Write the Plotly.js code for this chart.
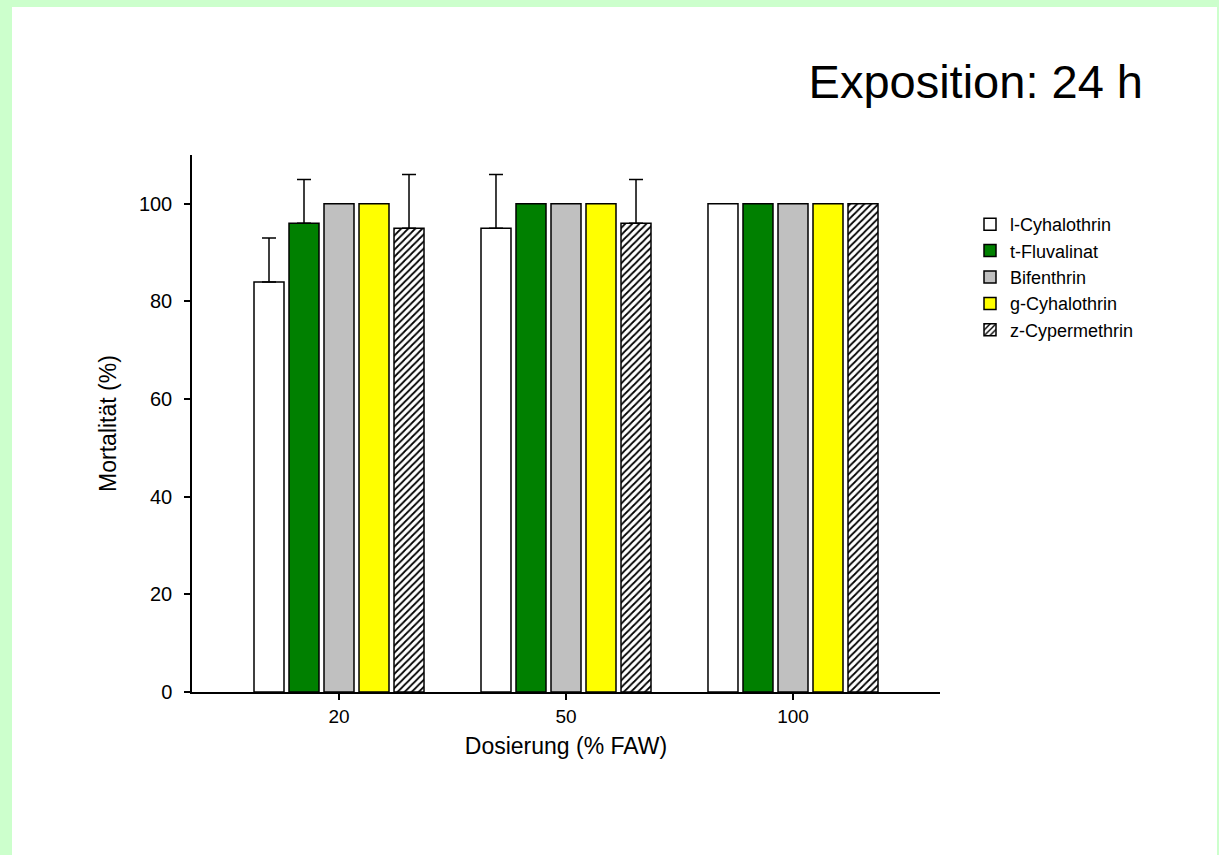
<!DOCTYPE html>
<html>
<head>
<meta charset="utf-8">
<script src="https://cdn.plot.ly/plotly-3.0.1.min.js"></script>
<style>
html,body{margin:0;padding:0;background:#ccffcc;overflow:hidden;width:1219px;height:855px;}
#chart{position:absolute;left:12px;top:7px;width:1205px;height:848px;background:#fff;}
</style>
</head>
<body>
<div id="chart"></div>
<script>
const categories = ['20', '50', '100'];
const seriesNames = ['l-Cyhalothrin', 't-Fluvalinat', 'Bifenthrin', 'g-Cyhalothrin', 'z-Cypermethrin'];
const lCyhalothrin = [84, 95, 100];
const tFluvalinat = [96, 100, 100];
const bifenthrin = [100, 100, 100];
const gCyhalothrin = [100, 100, 100];
const zCypermethrin = [95, 96, 100];
const errLCyhalothrin = [9, 11, null];
const errTFluvalinat = [9, null, null];
const errBifenthrin = [null, null, null];
const errGCyhalothrin = [null, null, null];
const errZCypermethrin = [11, 9, null];
const yTickVals = [0, 20, 40, 60, 80, 100];

const values = [lCyhalothrin, tFluvalinat, bifenthrin, gCyhalothrin, zCypermethrin];
const errors = [errLCyhalothrin, errTFluvalinat, errBifenthrin, errGCyhalothrin, errZCypermethrin];
const fills = ['#ffffff', '#008000', '#c0c0c0', '#ffff00', '#ffffff'];

const traces = seriesNames.map((name, i) => {
  const marker = {color: fills[i], line: {color: '#000', width: 1.5}};
  if (i === 4) {
    marker.pattern = {shape: '/', fgcolor: '#000', bgcolor: '#fff', size: 5, solidity: 0.35};
  }
  return {
    type: 'bar',
    name: name,
    x: categories,
    y: values[i],
    marker: marker,
    error_y: {
      type: 'data',
      symmetric: false,
      array: errors[i].map(v => v == null ? NaN : v),
      arrayminus: errors[i].map(v => v == null ? NaN : 0),
      color: '#000',
      thickness: 1.5,
      width: 7,
      visible: true
    },
    hoverinfo: 'x+y+name'
  };
});

const font = 'Liberation Sans, Arial, Helvetica, sans-serif';

const layout = {
  width: 1205,
  height: 848,
  margin: {l: 180, r: 277, t: 148, b: 163, pad: 0},
  paper_bgcolor: '#ffffff',
  plot_bgcolor: '#ffffff',
  font: {family: font, color: '#000'},
  barmode: 'group',
  bargap: 0.229,
  bargroupgap: 0.143,
  title: {
    text: 'Exposition: 24 h',
    font: {family: font, size: 47, color: '#000'},
    x: (1143 - 12) / 1205,
    xanchor: 'right',
    xref: 'container',
    y: 1 - (82 - 7) / 848,
    yanchor: 'middle',
    yref: 'container'
  },
  xaxis: {
    type: 'category',
    range: [-0.6476, 2.6476],
    showline: true,
    linecolor: '#000',
    linewidth: 1.5,
    ticks: 'outside',
    ticklen: 6,
    tickwidth: 1.5,
    tickcolor: '#000',
    showgrid: false,
    zeroline: false,
    tickfont: {family: font, size: 19, color: '#000'},
    title: {text: 'Dosierung (% FAW)', font: {family: font, size: 23, color: '#000'}, standoff: 12},
    fixedrange: true
  },
  yaxis: {
    range: [0, 110],
    tickvals: yTickVals,
    showline: true,
    linecolor: '#000',
    linewidth: 1.5,
    ticks: 'outside',
    ticklen: 6,
    tickwidth: 1.5,
    tickcolor: '#000',
    showgrid: false,
    zeroline: false,
    ticklabelstandoff: 8,
    tickfont: {family: font, size: 20, color: '#000'},
    title: {text: 'Mortalität (%)', font: {family: font, size: 23, color: '#000'}, standoff: 16},
    fixedrange: true
  },
  showlegend: true,
  legend: {
    x: (970 - 192) / 748,
    xanchor: 'left',
    y: (692 - 206) / 537,
    yanchor: 'top',
    font: {family: font, size: 18, color: '#000'},
    bgcolor: 'rgba(0,0,0,0)',
    borderwidth: 0,
    tracegroupgap: 0
  }
};

Plotly.newPlot('chart', traces, layout, {displayModeBar: false, staticPlot: false});
</script>
</body>
</html>
